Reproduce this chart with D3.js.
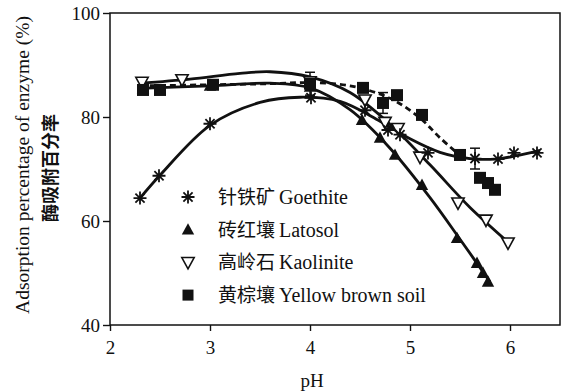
<!DOCTYPE html>
<html>
<head>
<meta charset="utf-8">
<script src="https://cdn.jsdelivr.net/npm/d3@7"></script>
<style>
  body { margin: 0; background: #fff; }
  text { fill: #111; }
</style>
</head>
<body>
<div class="chart"></div>
<script>
var svgWidth = 568;
var svgHeight = 391;

var margin = { top: 13, right: 8, bottom: 66, left: 110 };
var width = svgWidth - margin.left - margin.right;
var height = svgHeight - margin.top - margin.bottom;

var serif = "'Liberation Serif', 'Noto Sans CJK SC', serif";
var cjk = "'Noto Sans CJK SC', sans-serif";

// measured points
var goethitePH = [2.3, 2.49, 3.0, 4.01, 4.55, 4.78, 4.9, 5.18, 5.65, 5.88, 6.04, 6.27];
var goethiteVal = [64.4, 68.7, 78.7, 83.7, 81.3, 77.5, 76.6, 73.1, 72.0, 71.9, 73.1, 73.1];

var latosolPH = [2.33, 3.0, 4.0, 4.52, 4.7, 4.85, 5.12, 5.47, 5.67, 5.73, 5.78];
var latosolVal = [85.5, 86.0, 85.8, 79.4, 76.0, 72.7, 66.9, 56.7, 51.9, 50.0, 48.3];

var kaolinitePH = [2.32, 2.72, 4.0, 4.55, 4.75, 4.88, 5.1, 5.48, 5.76, 5.98];
var kaoliniteVal = [86.7, 87.2, 86.8, 83.3, 79.0, 77.8, 72.3, 63.5, 60.2, 55.8];

var yellowPH = [2.33, 2.5, 3.03, 4.0, 4.53, 4.73, 4.87, 5.12, 5.5, 5.7, 5.78, 5.85];
var yellowVal = [85.2, 85.2, 86.2, 86.4, 85.6, 82.7, 84.2, 80.4, 72.7, 68.3, 67.3, 66.0];

// error bars (pH, value, +/-)
var errPH = [4.0, 4.73, 5.65];
var errVal = [86.4, 82.7, 72.0];
var errSize = [2.2, 2.0, 2.0];

// fitted curves
var goethiteFitPH = [2.3, 2.5, 3.0, 3.5, 3.9, 4.3, 4.7, 5.0, 5.3, 5.6, 5.85, 6.05, 6.3];
var goethiteFitVal = [64.4, 68.8, 78.4, 82.8, 83.8, 83.0, 79.2, 75.8, 73.2, 72.0, 71.9, 72.5, 73.6];

var latosolFitPH = [2.3, 3.0, 3.6, 4.0, 4.4, 4.8, 5.2, 5.5, 5.8];
var latosolFitVal = [85.5, 86.0, 86.5, 85.6, 81.4, 74.0, 64.5, 56.5, 48.3];

var kaoliniteFitPH = [2.3, 2.8, 3.3, 3.6, 4.0, 4.4, 4.8, 5.2, 5.6, 6.0];
var kaoliniteFitVal = [86.5, 87.3, 88.4, 88.7, 87.7, 84.7, 78.6, 70.8, 62.6, 55.6];

var yellowFitPH = [2.3, 3.0, 3.6, 4.0, 4.4, 4.8, 5.1, 5.3, 5.5];
var yellowFitVal = [86.0, 86.2, 86.4, 86.6, 86.0, 83.6, 79.8, 76.0, 72.6];

var xTicks = [2, 3, 4, 5, 6];
var yTicks = [40, 60, 80, 100];

var legendCn = ["针铁矿", "砖红壤", "高岭石", "黄棕壤"];
var legendEn = ["Goethite", "Latosol", "Kaolinite", "Yellow brown soil"];

var svg = d3.select(".chart").append("svg")
  .attr("width", svgWidth)
  .attr("height", svgHeight);

var chartGroup = svg.append("g")
  .attr("transform", `translate(${margin.left}, ${margin.top})`);

var x = d3.scaleLinear().domain([2, 6.5]).range([0, width]);
var y = d3.scaleLinear().domain([40, 100]).range([height, 0]);

// frame
chartGroup.append("rect")
  .attr("width", width).attr("height", height)
  .attr("fill", "none").attr("stroke", "#111").attr("stroke-width", 1.5);

var xAxis = chartGroup.append("g")
  .attr("transform", `translate(0, ${height})`)
  .call(d3.axisBottom(x).tickValues(xTicks).tickSize(6).tickPadding(10).tickFormat(d3.format("d")));
var yAxis = chartGroup.append("g")
  .call(d3.axisLeft(y).tickValues(yTicks).tickSize(7).tickPadding(3).tickFormat(d3.format("d")));

[xAxis, yAxis].forEach(function(a) {
  a.attr("font-family", serif).attr("font-size", 19);
  a.select(".domain").remove();
  a.selectAll("line").attr("stroke", "#111").attr("stroke-width", 1.4);
  a.selectAll("text").attr("fill", "#111");
});

// axis titles
svg.append("text")
  .attr("x", margin.left + x(4) + 2).attr("y", 387)
  .attr("text-anchor", "middle").attr("font-size", 19).attr("font-family", serif)
  .text("pH");

svg.append("text")
  .attr("transform", "translate(29, 165) rotate(-90)")
  .attr("text-anchor", "middle").attr("font-size", 19.5).attr("font-family", serif)
  .text("Adsorption percentage of enzyme (%)");

svg.append("text")
  .attr("transform", "translate(57, 168) rotate(-90)")
  .attr("text-anchor", "middle").attr("font-size", 18)
  .attr("font-family", cjk).attr("font-weight", "bold")
  .text("酶吸附百分率");

var line = d3.line().x(d => x(d[0])).y(d => y(d[1])).curve(d3.curveCatmullRom.alpha(0.5));

function fit(ph, vals) { return ph.map((p, i) => [p, vals[i]]); }

chartGroup.append("path").datum(fit(yellowFitPH, yellowFitVal))
  .attr("d", line).attr("fill", "none").attr("stroke", "#111")
  .attr("stroke-width", 2.8).attr("stroke-dasharray", "6,4");
[[goethiteFitPH, goethiteFitVal], [latosolFitPH, latosolFitVal], [kaoliniteFitPH, kaoliniteFitVal]]
  .forEach(function(f) {
    chartGroup.append("path").datum(fit(f[0], f[1]))
      .attr("d", line).attr("fill", "none").attr("stroke", "#111").attr("stroke-width", 2.8);
  });

// error bars
errPH.forEach(function(p, i) {
  var g = chartGroup.append("g").attr("stroke", "#111").attr("stroke-width", 1.5);
  var top = y(errVal[i] + errSize[i]), bot = y(errVal[i] - errSize[i]);
  g.append("line").attr("x1", x(p)).attr("x2", x(p)).attr("y1", top).attr("y2", bot);
  g.append("line").attr("x1", x(p) - 5).attr("x2", x(p) + 5).attr("y1", top).attr("y2", top);
  g.append("line").attr("x1", x(p) - 5).attr("x2", x(p) + 5).attr("y1", bot).attr("y2", bot);
});

// marker shapes
function asterisk(sel, r) {
  var d = "";
  for (var k = 0; k < 4; k++) {
    var a = k * Math.PI / 4;
    d += `M${-r * Math.cos(a)},${-r * Math.sin(a)}L${r * Math.cos(a)},${r * Math.sin(a)}`;
  }
  sel.append("path").attr("d", d).attr("stroke", "#111").attr("stroke-width", 1.8).attr("fill", "none");
}
function upTri(sel, r) {
  sel.append("path").attr("d", `M0,${-r}L${r * 0.95},${r * 0.75}L${-r * 0.95},${r * 0.75}Z`)
    .attr("fill", "#111");
}
function downTri(sel, r) {
  sel.append("path").attr("d", `M0,${r}L${r * 0.95},${-r * 0.75}L${-r * 0.95},${-r * 0.75}Z`)
    .attr("fill", "#fff").attr("stroke", "#111").attr("stroke-width", 1.6);
}
function square(sel, r) {
  sel.append("rect").attr("x", -r).attr("y", -r).attr("width", 2 * r).attr("height", 2 * r)
    .attr("fill", "#111");
}

function drawPoints(ph, vals, shape, r) {
  chartGroup.append("g").selectAll("g")
    .data(fit(ph, vals))
    .enter().append("g")
    .attr("transform", d => `translate(${x(d[0])}, ${y(d[1])})`)
    .each(function() { shape(d3.select(this), r); });
}

drawPoints(latosolPH, latosolVal, upTri, 6.5);
drawPoints(kaolinitePH, kaoliniteVal, downTri, 6.5);
drawPoints(yellowPH, yellowVal, square, 6);
drawPoints(goethitePH, goethiteVal, asterisk, 6.5);

// legend
var shapes = [asterisk, upTri, downTri, square];
var legend = svg.append("g").attr("transform", "translate(188, 197)");
legendEn.forEach(function(name, i) {
  var row = legend.append("g").attr("transform", `translate(0, ${i * 32.7})`);
  shapes[i](row, i === 3 ? 5.5 : 6.5);
  var t = row.append("text").attr("x", 30).attr("y", 7).attr("font-size", 20).attr("font-family", serif);
  t.append("tspan").attr("font-family", cjk).attr("font-size", 19).text(legendCn[i]);
  t.append("tspan").attr("dx", 4).text(name);
});
</script>
</body>
</html>
